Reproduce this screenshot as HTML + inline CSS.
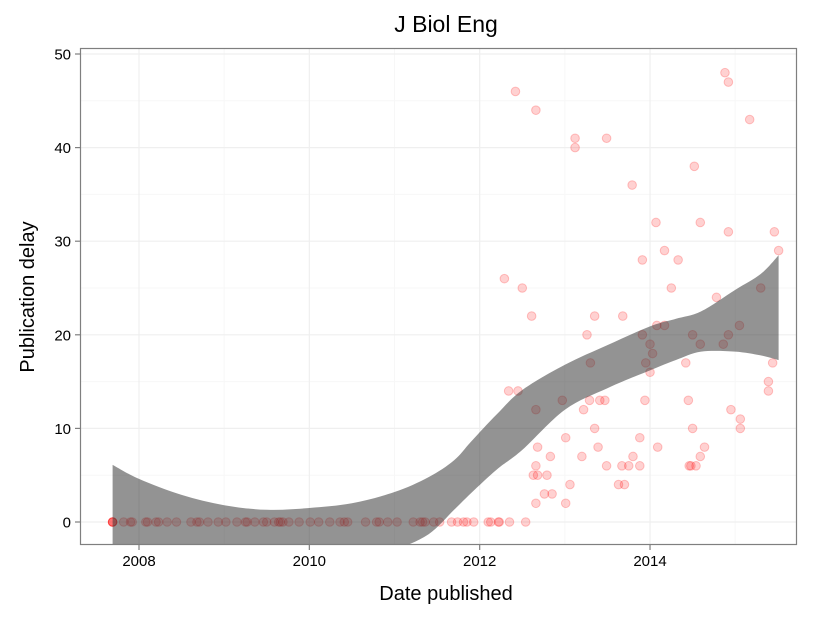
<!DOCTYPE html>
<html><head><meta charset="utf-8"><style>
body{margin:0;background:#fff;}
svg text{font-family:"Liberation Sans",sans-serif;}
</style></head><body>
<svg id="chart" width="825" height="618" xmlns="http://www.w3.org/2000/svg">
<text x="446" y="32" font-size="23" text-anchor="middle" fill="#000">J Biol Eng</text>
<text x="446" y="600" font-size="20" text-anchor="middle" fill="#000">Date published</text>
<text transform="translate(34,297) rotate(-90)" font-size="20" text-anchor="middle" fill="#000">Publication delay</text>
<g id="grid"></g>
<g id="pts"></g>
<g id="band"></g>
<rect x="80.5" y="48.5" width="716" height="496" fill="none" stroke="#7f7f7f" stroke-width="1.2"/>
<g id="axes"></g>
</svg>
<script>
const zeroDates=[2007.69,2007.69,2007.69,2007.69,2007.82,2007.90,2007.92,2008.08,2008.10,2008.20,2008.23,2008.33,2008.44,2008.61,2008.68,2008.71,2008.81,2008.93,2009.02,2009.15,2009.25,2009.27,2009.36,2009.46,2009.50,2009.59,2009.64,2009.66,2009.69,2009.76,2009.88,2010.01,2010.11,2010.24,2010.36,2010.41,2010.45,2010.66,2010.79,2010.82,2010.92,2011.03,2011.22,2011.30,2011.33,2011.36,2011.46,2011.53,2011.67,2011.74,2011.81,2011.85,2011.93,2012.10,2012.13,2012.22,2012.23,2012.35,2012.54];
const dates=[2012.42,2012.66,2013.12,2013.12,2013.49,2014.52,2013.79,2014.88,2014.92,2015.17,2014.07,2014.59,2014.92,2015.46,2015.51,2013.91,2014.17,2014.33,2012.29,2012.50,2014.25,2015.30,2014.78,2012.61,2013.35,2013.68,2014.08,2014.17,2015.05,2013.26,2013.91,2014.50,2014.92,2014.00,2014.59,2014.86,2014.03,2013.30,2013.95,2014.42,2015.44,2014.00,2015.39,2015.39,2012.34,2012.45,2012.66,2012.97,2013.29,2013.22,2013.41,2013.47,2013.94,2014.45,2014.95,2015.06,2015.06,2013.35,2014.50,2013.01,2013.88,2012.68,2013.39,2014.09,2014.64,2012.83,2013.20,2013.80,2014.59,2012.66,2013.49,2013.67,2013.75,2013.88,2014.46,2014.48,2014.54,2012.63,2012.68,2012.79,2013.06,2013.63,2013.70,2012.76,2012.85,2012.66,2013.01];
const delays=[46,44,41,40,41,38,36,48,47,43,32,32,31,31,29,28,29,28,26,25,25,25,24,22,22,22,21,21,21,20,20,20,20,19,19,19,18,17,17,17,17,16,15,14,14,14,12,13,13,12,13,13,13,13,12,11,10,10,10,9,9,8,8,8,8,7,7,7,7,6,6,6,6,6,6,6,6,5,5,5,4,4,4,3,3,2,2];
const bandX=[2007.69,2008,2008.5,2009,2009.5,2010,2010.5,2011,2011.4,2011.7,2011.9,2012.2,2012.5,2013,2013.5,2014,2014.3,2014.6,2015,2015.3,2015.51];
const bandUpper=[6.1,4.6,2.9,1.8,1.3,1.5,2.0,3.2,4.8,6.6,8.6,11.5,14.1,16.8,18.9,20.9,21.7,22.5,24.8,26.5,28.5];
const bandLower=[-14,-11,-8,-6.5,-5.5,-5,-4.5,-3,-1.3,1.3,3.1,5.6,7.7,12,14.3,16.2,17.3,18.2,18.2,17.8,17.3];
const xTicks=[2008,2010,2012,2014];
const xMinor=[2009,2011,2013,2015];
const yTicks=[0,10,20,30,40,50];
const yMinor=[5,15,25,35,45];
const NS="http://www.w3.org/2000/svg";
const X=v=>139+(v-2008)*85.17;
const Y=v=>522-v*9.36;
function mk(t,a,p){const e=document.createElementNS(NS,t);for(const k in a)e.setAttribute(k,a[k]);p.appendChild(e);return e;}
const grid=document.getElementById('grid');
for(const v of yMinor){const l=mk('line',{x1:81,x2:796,y1:Y(v),y2:Y(v),stroke:'#f7f7f7','stroke-width':1},grid);

}
for(const v of xMinor){const l=mk('line',{x1:X(v),x2:X(v),y1:49,y2:544,stroke:'#f7f7f7','stroke-width':1},grid);

}
for(const v of yTicks){const l=mk('line',{x1:81,x2:796,y1:Y(v),y2:Y(v),stroke:'#efefef','stroke-width':1.2},grid);

}
for(const v of xTicks){const l=mk('line',{x1:X(v),x2:X(v),y1:49,y2:544,stroke:'#efefef','stroke-width':1.2},grid);

}
const pts=document.getElementById('pts');
function pt(x,y){const c=mk('circle',{cx:X(x),cy:Y(y),r:4.3,fill:'rgba(255,0,0,0.18)',stroke:'rgba(255,0,0,0.22)','stroke-width':1},pts);

}
zeroDates.forEach(d=>pt(d,0));
dates.forEach((d,i)=>pt(d,delays[i]));
const band=document.getElementById('band');
mk('clipPath',{id:'pc'},band).appendChild(document.createElementNS(NS,'rect'));
const cr=band.querySelector('clipPath rect');cr.setAttribute('x',81);cr.setAttribute('y',49);cr.setAttribute('width',715);cr.setAttribute('height',495);
function smooth(P,first){
  let s=(first?'M':'L')+P[0][0].toFixed(1)+','+P[0][1].toFixed(1);
  for(let i=0;i<P.length-1;i++){
    const p0=P[Math.max(0,i-1)],p1=P[i],p2=P[i+1],p3=P[Math.min(P.length-1,i+2)];
    const c1=[p1[0]+(p2[0]-p0[0])/6,p1[1]+(p2[1]-p0[1])/6];
    const c2=[p2[0]-(p3[0]-p1[0])/6,p2[1]-(p3[1]-p1[1])/6];
    s+='C'+c1[0].toFixed(1)+','+c1[1].toFixed(1)+' '+c2[0].toFixed(1)+','+c2[1].toFixed(1)+' '+p2[0].toFixed(1)+','+p2[1].toFixed(1);
  }
  return s;
}
const up=bandX.map((x,i)=>[X(x),Y(bandUpper[i])]);
const lo=bandX.map((x,i)=>[X(x),Y(bandLower[i])]).reverse();
const d=smooth(up,true)+smooth(lo,false)+'Z';
const bp=mk('path',{d:d,fill:'rgba(51,51,51,0.53)','clip-path':'url(#pc)'},band);


const axes=document.getElementById('axes');
for(const v of yTicks){mk('line',{x1:75,x2:80,y1:Y(v),y2:Y(v),stroke:'#7f7f7f','stroke-width':1.2},axes);
const t=mk('text',{x:71,y:Y(v)+5.5,'font-size':15,'text-anchor':'end',fill:'#000'},axes);t.textContent=v;

}
for(const v of xTicks){mk('line',{x1:X(v),x2:X(v),y1:545,y2:550,stroke:'#7f7f7f','stroke-width':1.2},axes);
const t=mk('text',{x:X(v),y:566,'font-size':15,'text-anchor':'middle',fill:'#000'},axes);t.textContent=v;

}
</script>
</body></html>
